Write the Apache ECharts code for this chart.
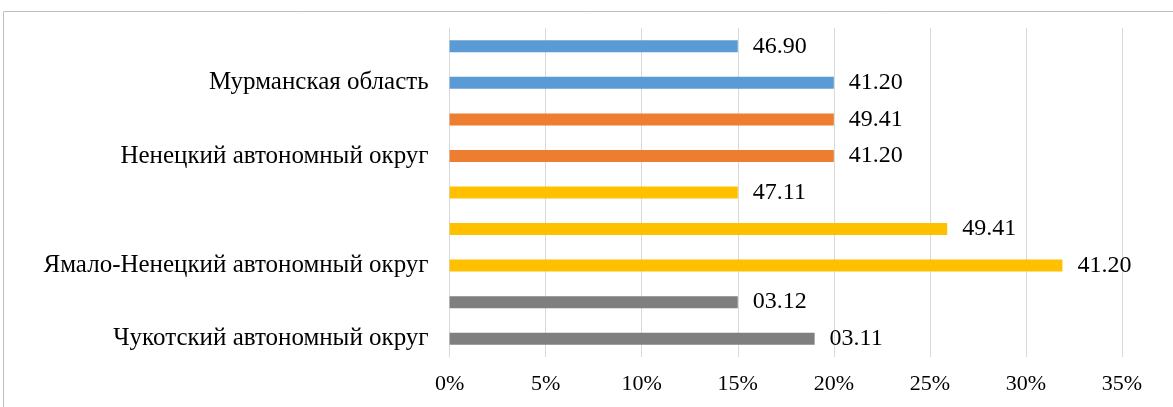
<!DOCTYPE html>
<html>
<head>
<meta charset="utf-8">
<script src="https://cdn.jsdelivr.net/npm/echarts@6/dist/echarts.min.js"></script>
<style>
html,body{margin:0;padding:0;background:#fff;}
#chart{width:1173px;height:407px;}
</style>
</head>
<body>
<div id="chart"></div>
<script>
// rows from top to bottom
var rowLabels = ['', 'Мурманская область', '', 'Ненецкий автономный округ', '', '', 'Ямало-Ненецкий автономный округ', '', 'Чукотский автономный округ'];
// bar length in %, grouped by region (null where the region has no bar)
var murmansk = [15, 20, null, null, null, null, null, null, null];
var nenets = [null, null, 20, 20, null, null, null, null, null];
var yamal = [null, null, null, null, 15, 25.9, 31.9, null, null];
var chukotka = [null, null, null, null, null, null, null, 15, 19];
// texts shown at the end of the bars
var barTexts = ['46.90', '41.20', '49.41', '41.20', '47.11', '49.41', '41.20', '03.12', '03.11'];
var xTicks = [0, 5, 10, 15, 20, 25, 30, 35];

var rowKeys = rowLabels.map(function(v, i){ return 'r' + i; });
var serif = '"Liberation Serif", "DejaVu Serif", serif';

function makeSeries(name, data, color){
    return {
        name: name,
        type: 'bar',
        stack: 'all',
        data: data,
        barWidth: 12,
        itemStyle: { color: color },
        label: {
            show: true,
            position: 'right',
            distance: 15,
            fontFamily: serif,
            fontSize: 24,
            color: '#000',
            formatter: function(p){ return barTexts[p.dataIndex]; }
        }
    };
}

var chart = echarts.init(document.getElementById('chart'));
chart.setOption({
    animation: false,
    graphic: [{
        type: 'rect',
        shape: { x: 3.5, y: 11.5, width: 1200, height: 420 },
        style: { fill: 'none', stroke: '#BFBFBF', lineWidth: 1 },
        silent: true
    }],
    grid: { left: 449.6, right: 51, top: 28, bottom: 50 },
    xAxis: {
        type: 'value',
        min: xTicks[0],
        max: xTicks[xTicks.length - 1],
        interval: xTicks[1] - xTicks[0],
        axisLine: { show: false },
        axisTick: { show: false },
        splitLine: { lineStyle: { color: '#D9D9D9', width: 1 } },
        axisLabel: {
            formatter: '{value}%',
            fontFamily: serif,
            fontSize: 22,
            color: '#000',
            margin: 16
        }
    },
    yAxis: {
        type: 'category',
        inverse: true,
        data: rowKeys,
        axisLine: { show: true, lineStyle: { color: '#D9D9D9' } },
        axisTick: { show: false },
        axisLabel: {
            interval: 0,
            fontFamily: serif,
            fontSize: 25,
            color: '#000',
            margin: 21,
            formatter: function(v, i){ return rowLabels[i]; }
        }
    },
    series: [
        makeSeries('Мурманская область', murmansk, '#5B9BD5'),
        makeSeries('Ненецкий автономный округ', nenets, '#ED7D31'),
        makeSeries('Ямало-Ненецкий автономный округ', yamal, '#FFC000'),
        makeSeries('Чукотский автономный округ', chukotka, '#7F7F7F')
    ]
});
</script>
</body>
</html>
